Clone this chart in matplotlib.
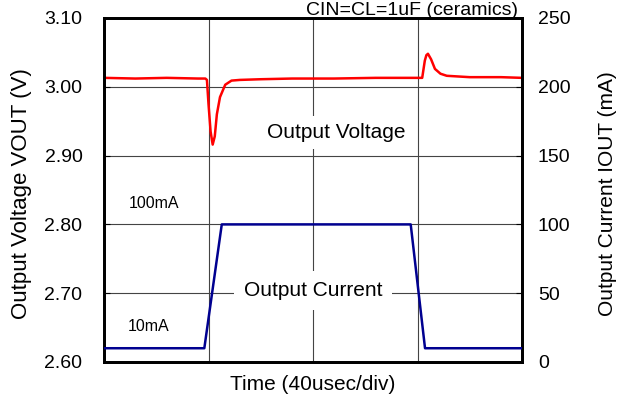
import matplotlib
matplotlib.use("Agg")
import matplotlib.pyplot as plt

plt.rcParams['font.family'] = ['Liberation Sans', 'DejaVu Sans']

# Time in divisions (40 usec/div)
v_time = [0.0, 0.3, 0.6, 0.9, 0.97, 0.985, 1.0, 1.02, 1.04, 1.06, 1.08, 1.11, 1.16, 1.22,
          1.3, 1.5, 1.8, 2.2, 2.6, 3.0, 3.045, 3.07, 3.085, 3.10, 3.13, 3.167, 3.22, 3.28,
          3.5, 3.8, 4.0]
v_out = [3.013, 3.012, 3.013, 3.012, 3.012, 3.010, 2.975, 2.935, 2.916, 2.928, 2.960, 2.985, 3.003, 3.009,
         3.010, 3.011, 3.012, 3.012, 3.013, 3.013, 3.013, 3.038, 3.046, 3.048, 3.040, 3.026, 3.019, 3.016,
         3.014, 3.014, 3.013]

i_time = [0.0, 0.96, 1.127, 2.935, 3.072, 4.0]
i_out = [10, 10, 100, 100, 10, 10]

v_ticks = [2.60, 2.70, 2.80, 2.90, 3.00, 3.10]
i_ticks = [0, 50, 100, 150, 200, 250]

fig = plt.figure(figsize=(6.28, 4.03), dpi=100)
ax = fig.add_axes([104/628, 41/403, 418/628, 344/403])
ax2 = ax.twinx()

ax.set_xlim(0, 4)
ax.set_ylim(2.60, 3.10)
ax2.set_ylim(0, 250)
ax.set_xticks([1, 2, 3])
ax.set_xticklabels([])
ax.tick_params(axis='x', length=0)
ax.set_yticks(v_ticks)
ax.set_yticklabels([f"{t:.2f}" for t in v_ticks], fontsize=14)
ax2.set_yticks(i_ticks)
ax2.set_yticklabels([str(t) for t in i_ticks], fontsize=14)
ax.tick_params(axis='y', direction='in', length=4, pad=15.5)
ax2.tick_params(axis='y', direction='in', length=4, pad=11.5)

ax.grid(True, color='#444444', linewidth=0.8)
for s in ax.spines.values():
    s.set_linewidth(2)
    s.set_zorder(10)
for s in ax2.spines.values():
    s.set_linewidth(2)

ax.plot(v_time, v_out, color='#ff0000', linewidth=1.8, zorder=4)
ax2.plot(i_time, i_out, color='#000090', linewidth=1.8, zorder=4)

ax.set_ylabel("Output Voltage VOUT (V)", fontsize=16)
ax.yaxis.label.set_verticalalignment('center')
ax.yaxis.set_label_coords((22-104)/418, (362-194)/344)
ax2.set_ylabel("Output Current IOUT (mA)", fontsize=15)
ax2.yaxis.label.set_verticalalignment('center')
ax2.yaxis.set_label_coords((607-104)/418, (362-194)/344)
ax.set_xlabel("Time (40usec/div)", fontsize=15)
ax.xaxis.label.set_verticalalignment('center')
ax.xaxis.set_label_coords(0.5, (362-385)/344)

ax.text((336-104)/104.5, 3.10 - (132.7-18)/687.0, "Output Voltage", fontsize=15,
        ha='center', va='center', zorder=6,
        bbox=dict(facecolor='white', edgecolor='none', pad=5))
ax.text((313-104)/104.5, 3.10 - (290-18)/687.0, "Output Current", fontsize=15,
        ha='center', va='center', zorder=6,
        bbox=dict(facecolor='white', edgecolor='none', pad=7))
ax.text((154-104)/104.5, 3.10 - (203-18)/687.0, "100mA", fontsize=11.5, ha='center', va='center')
ax.text((149-104)/104.5, 3.10 - (326.5-18)/687.0, "10mA", fontsize=11.5, ha='center', va='center')

fig.text(518/628, 1 - 15/403, "CIN=CL=1uF (ceramics)", fontsize=14, ha='right', va='baseline')

fig.savefig("out.png", dpi=100)
